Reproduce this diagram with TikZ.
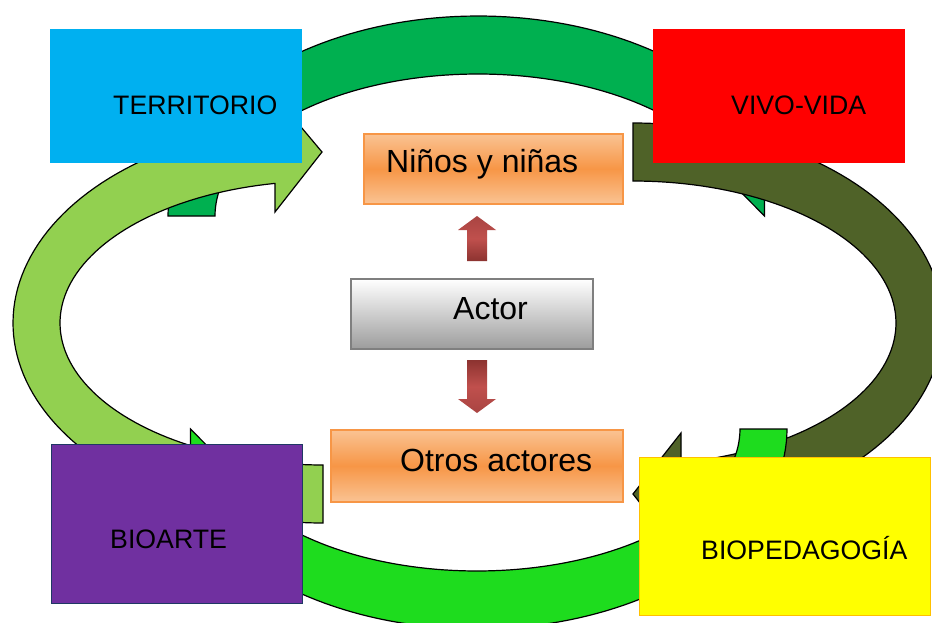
\documentclass[tikz,border=0pt]{standalone}
\usepackage{fontspec}
\setmainfont{Liberation Sans}
\definecolor{cTerr}{HTML}{00B0F0}
\definecolor{cVivo}{HTML}{FF0000}
\definecolor{cBioarte}{HTML}{7030A0}
\definecolor{cBioarteB}{HTML}{1F3864}
\definecolor{cBiopeda}{HTML}{FFFF00}
\definecolor{cBiopedaB}{HTML}{FFC000}
\definecolor{cDk}{HTML}{00B050}
\definecolor{cLt}{HTML}{92D050}
\definecolor{cOl}{HTML}{4F6228}
\definecolor{cBr}{HTML}{1EDC1E}
\definecolor{cOrL}{HTML}{FAC393}
\definecolor{cOr}{HTML}{F79646}
\definecolor{cGrB}{HTML}{7F7F7F}
\definecolor{cGrD}{HTML}{9C9C9C}
\definecolor{cRed}{HTML}{C0504D}
\definecolor{cRedD}{HTML}{8C3330}
\definecolor{cRedM}{HTML}{A94442}
\begin{document}
\begin{tikzpicture}[x=1pt,y=-1pt,
  ring/.style={draw=black, line width=1.2pt, line join=miter},
  corner/.style={rectangle, inner sep=0pt, anchor=north west},
  cornerlbl/.style={inner sep=0pt, anchor=base west, font=\fontsize{26.7}{31}\selectfont},
  midlbl/.style={inner sep=0pt, anchor=base west, font=\fontsize{32}{38}\selectfont},
  orangebox/.style={rectangle, inner sep=0pt, anchor=north west, draw=cOr, line width=1.6pt,
    top color=cOrL, bottom color=cOrL, middle color=cOr},
  graybox/.style={rectangle, inner sep=0pt, anchor=north west, draw=cGrB, line width=2.2pt,
    top color=white, bottom color=cGrD}
]
\useasboundingbox (0,0) rectangle (932,623);
\clip (0,0) rectangle (932,623);
\fill[white] (0,0) rectangle (932,623);

% top arrow (dark green)
\draw[ring, fill=cDk]
  plot[domain=180:13.89, samples=90, variable=\t] ({478+310*cos(\t)},{216-200*sin(\t)})
  -- (764.5,168) -- (764.5,216) -- (717,168) -- (725.5,168)
  -- plot[domain=19.76:180, samples=90, variable=\t] ({478+263*cos(\t)},{216-142*sin(\t)})
  -- cycle;

% right arrow (olive)
\draw[ring, fill=cOl]
  plot[domain=90:-81.09, samples=90, variable=\t] ({633+310*cos(\t)},{323-200*sin(\t)})
  -- (681,555) -- (633,494) -- (681,433) -- (681,462.6)
  -- plot[domain=-79.48:90, samples=90, variable=\t] ({633+263*cos(\t)},{323-142*sin(\t)})
  -- cycle;

% left arrow (light green)
\draw[ring, fill=cLt]
  plot[domain=270:98.91, samples=90, variable=\t] ({323+310*cos(\t)},{323-200*sin(\t)})
  -- (275,96) -- (322,152) -- (275,212) -- (275,183.4)
  -- plot[domain=100.52:270, samples=90, variable=\t] ({323+263*cos(\t)},{323-142*sin(\t)})
  -- cycle;

% bottom arrow (bright green)
\draw[ring, fill=cBr]
  plot[domain=0:-166.11, samples=90, variable=\t] ({477+310*cos(\t)},{429-200*sin(\t)})
  -- (190.5,477) -- (190.5,429) -- (238,477) -- (229.5,477)
  -- plot[domain=-160.24:0, samples=90, variable=\t] ({477+263*cos(\t)},{429-142*sin(\t)})
  -- cycle;

% corner boxes
\node[corner, fill=cTerr, minimum width=252pt, minimum height=134pt] (terr) at (50,29) {};
\node[corner, fill=cVivo, minimum width=252pt, minimum height=134pt] (vivo) at (653,29) {};
\node[corner, fill=cBioarte, draw=cBioarteB, line width=1.2pt, minimum width=251pt, minimum height=159pt] (bioarte) at (51,444) {};
\node[corner, fill=cBiopeda, draw=cBiopedaB, line width=1.2pt, minimum width=291pt, minimum height=158pt] (biopeda) at (639,457) {};

\node[cornerlbl] (tterr) at (113,115) {TERRITORIO};
\node[cornerlbl] (tvivo) at (731,115) {VIVO-VIDA};
\node[cornerlbl] (tbioarte) at (110,548) {BIOARTE};
\node[cornerlbl] (tbiopeda) at (701,559) {BIOPEDAGOGÍA};

% central boxes
\node[orangebox, minimum width=259pt, minimum height=70pt] (ninos) at (363,133) {};
\node[graybox, minimum width=242pt, minimum height=70pt] (actor) at (350,278) {};
\node[orangebox, minimum width=292pt, minimum height=72pt] (otros) at (330,429) {};

\node[midlbl] (tninos) at (386,173) {Niños y niñas};
\node[midlbl] (tactor) at (453,319) {Actor};
\node[midlbl] (totros) at (400,471) {Otros actores};

% red block arrows
\shade[top color=cRedM, bottom color=cRedD, middle color=cRed]
  (467,261) -- (467,230) -- (458,230) -- (477,216) -- (496,230) -- (487,230) -- (487,261) -- cycle;
\shade[top color=cRedD, bottom color=cRedM, middle color=cRed]
  (467,360) -- (487,360) -- (487,399) -- (496,399) -- (477,413) -- (458,399) -- (467,399) -- cycle;
\end{tikzpicture}
\end{document}
